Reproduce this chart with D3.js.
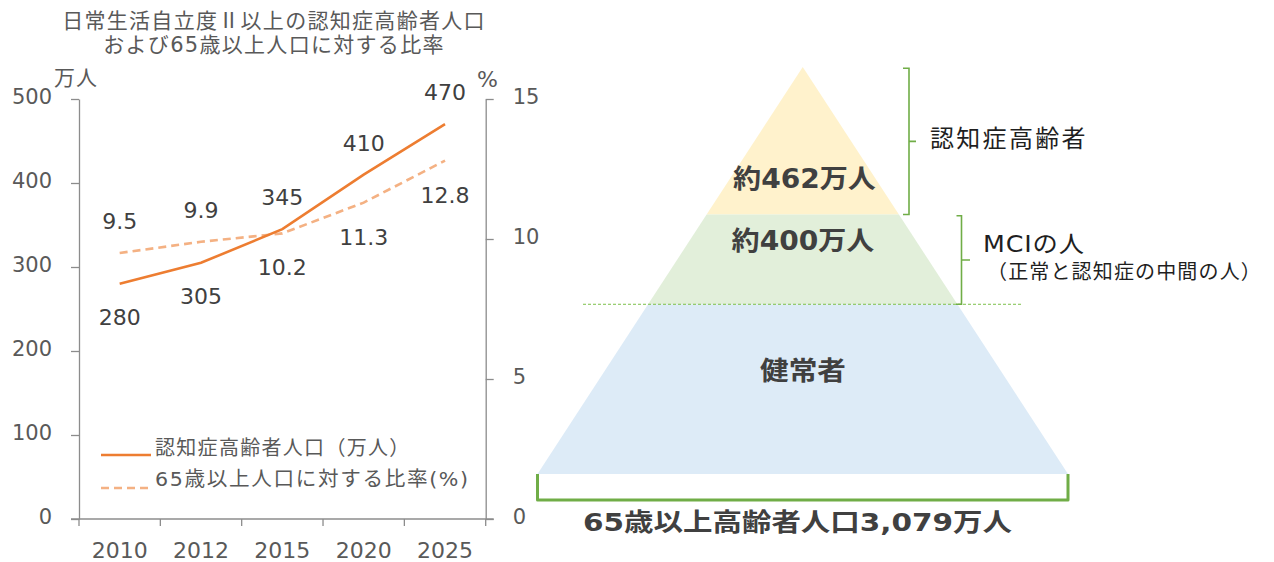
<!DOCTYPE html>
<html><head><meta charset="utf-8">
<script src="https://cdn.jsdelivr.net/npm/d3@7"></script>
<style>
html,body{margin:0;padding:0;background:#fff;}
svg{display:block;font-family:"DejaVu Sans","Noto Sans CJK JP",sans-serif;}
</style></head>
<body>
<svg id="chart" width="1274" height="562"></svg>
<script>
// ---- data ----
const titleLines = ["日常生活自立度Ⅱ以上の認知症高齢者人口", "および65歳以上人口に対する比率"];
const years = ["2010", "2012", "2015", "2020", "2025"];
const dementia = [280, 305, 345, 410, 470];
const ratio = [9.5, 9.9, 10.2, 11.3, 12.8];
const leftTicks = [0, 100, 200, 300, 400, 500];
const rightTicks = [0, 5, 10, 15];
const leftUnit = "万人";
const rightUnit = "%";
const legendLabels = ["認知症高齢者人口（万人）", "65歳以上人口に対する比率(%)"];
const pyramidLabels = ["約462万人", "約400万人", "健常者"];
const sideLabels = ["認知症高齢者", "MCIの人", "（正常と認知症の中間の人）"];
const totalLabel = "65歳以上高齢者人口3,079万人";

// ---- setup ----
const svg = d3.select("#chart");
const C_TEXT = "#595959", C_DARK = "#404040", C_AXIS = "#8c8c8c";
const C_SOLID = "#ED7D31", C_DASH = "#F4B183", C_GREEN = "#70AD47";

function txt(parent, x, y, s, o) {
  const t = parent.append("text")
    .attr("transform", `translate(${x},${y}) scale(${o.sx || 1},1)`)
    .attr("text-anchor", o.anchor || "start")
    .attr("font-size", o.size)
    .attr("font-weight", o.weight || "normal")
    .attr("fill", o.fill || C_TEXT)
    .style("letter-spacing", (o.ls || 0) + "px")
    .text(s);
  if (o.family) t.attr("font-family", o.family);
  return t;
}

// ---- left chart ----
const x = d3.scaleBand().domain(years).range([79, 485.7]);
const yL = d3.scaleLinear().domain([0, 500]).range([519, 99]);
const yR = d3.scaleLinear().domain([0, 15]).range([519, 99]);
const cx = d => x(d) + x.bandwidth() / 2;

// title
txt(svg, 274, 28, titleLines[0], {size: 21, anchor: "middle", ls: 1.3, family: "'Noto Sans CJK JP',sans-serif"});
txt(svg, 274, 52, titleLines[1], {size: 21, anchor: "middle", ls: 1.3});
txt(svg, 54, 85, leftUnit, {size: 21, ls: 1});
txt(svg, 487.5, 87, rightUnit, {size: 22, anchor: "middle"});

// left axis
const gL = svg.append("g").attr("transform", "translate(79,0)")
  .call(d3.axisLeft(yL).tickValues(leftTicks).tickSize(8).tickSizeOuter(0).tickPadding(19));
// right axis
const gR = svg.append("g").attr("transform", "translate(485.7,0)")
  .call(d3.axisRight(yR).tickValues(rightTicks).tickSize(8).tickSizeOuter(0).tickPadding(19));
[gL, gR].forEach(g => {
  g.selectAll("path.domain").attr("stroke", C_AXIS).attr("stroke-width", 1.3);
  g.selectAll(".tick line").attr("stroke", C_AXIS).attr("stroke-width", 1.3);
  g.selectAll(".tick text").attr("font-size", 21).attr("fill", C_TEXT)
    .attr("font-family", "'DejaVu Sans',sans-serif").attr("dy", "0.22em");
});

// x axis
const gX = svg.append("g").attr("transform", "translate(0,519)")
  .call(d3.axisBottom(x).tickSize(0).tickPadding(23.4));
gX.select("path.domain").remove();
gX.selectAll(".tick text").attr("font-size", 22).attr("fill", C_TEXT)
  .attr("font-family", "'DejaVu Sans',sans-serif");
svg.append("line").attr("x1", x.range()[0] - 8).attr("x2", x.range()[1] + 8)
  .attr("y1", 519).attr("y2", 519).attr("stroke", C_AXIS).attr("stroke-width", 1.3);
const bounds = years.map(d => x(d)).concat([x.range()[1]]);
svg.append("g").selectAll("line").data(bounds).join("line")
  .attr("x1", d => d).attr("x2", d => d).attr("y1", 519).attr("y2", 526)
  .attr("stroke", C_AXIS).attr("stroke-width", 1.3);

// lines
const lineL = d3.line().x((d, i) => cx(years[i])).y(d => yL(d));
const lineR = d3.line().x((d, i) => cx(years[i])).y(d => yR(d));
svg.append("path").attr("d", lineR(ratio)).attr("fill", "none")
  .attr("stroke", C_DASH).attr("stroke-width", 2.6).attr("stroke-dasharray", "8,5");
svg.append("path").attr("d", lineL(dementia)).attr("fill", "none")
  .attr("stroke", C_SOLID).attr("stroke-width", 2.6);

// data labels: the series higher on screen gets label above, the other below
years.forEach((yr, i) => {
  const a = yL(dementia[i]), b = yR(ratio[i]);
  const aAbove = a < b;
  txt(svg, cx(yr), aAbove ? a - 24 : a + 41, String(dementia[i]), {size: 22, anchor: "middle", fill: C_DARK});
  txt(svg, cx(yr), aAbove ? b + 42 : b - 24, ratio[i].toFixed(1), {size: 22, anchor: "middle", fill: C_DARK});
});

// legend
svg.append("line").attr("x1", 101).attr("x2", 151).attr("y1", 455).attr("y2", 455)
  .attr("stroke", C_SOLID).attr("stroke-width", 2.6);
svg.append("line").attr("x1", 101).attr("x2", 151).attr("y1", 488).attr("y2", 488)
  .attr("stroke", C_DASH).attr("stroke-width", 2.6).attr("stroke-dasharray", "8,5");
txt(svg, 155, 454.5, legendLabels[0], {size: 20, ls: 1.3});
txt(svg, 155, 486, legendLabels[1], {size: 20, ls: 1.6, sx: 1.03});

// ---- pyramid ----
const pcx = 802.75, halfBase = 265.25;
const py = d3.scaleLinear().domain([0, 1]).range([67, 474]);
const ph = d3.scaleLinear().domain([0, 1]).range([0, halfBase]);
const layerStops = [0, 0.3625, 0.583, 1];
const layerColors = ["#FFF2CC", "#E2EFDA", "#DDEBF7"];
const poly = d3.line();
for (let i = 0; i < 3; i++) {
  const t0 = layerStops[i], t1 = layerStops[i + 1];
  const pts = [[pcx - ph(t0), py(t0)], [pcx + ph(t0), py(t0)], [pcx + ph(t1), py(t1)], [pcx - ph(t1), py(t1)]];
  svg.append("path").attr("d", poly(pts) + "Z").attr("fill", layerColors[i]);
}
// dashed divider
svg.append("line").attr("x1", 583).attr("x2", 1023).attr("y1", py(layerStops[2])).attr("y2", py(layerStops[2]))
  .attr("stroke", "#7CC04B").attr("stroke-width", 1).attr("stroke-dasharray", "3,2");

// bottom bracket
svg.append("path")
  .attr("d", `M${pcx - halfBase},${py(1)} V500 H${pcx + halfBase} V${py(1)}`)
  .attr("fill", "none").attr("stroke", C_GREEN).attr("stroke-width", 3).attr("stroke-linejoin", "round");

// right brackets
const b1top = py(0) + 1.3, b1bot = py(layerStops[1]);
svg.append("path").attr("d", `M903,${b1top} H909 V${b1bot} H903 M909,${(b1top + b1bot) / 2} H916`)
  .attr("fill", "none").attr("stroke", C_GREEN).attr("stroke-width", 1.6);
const b2top = py(layerStops[1]) + 1.2, b2bot = py(layerStops[2]);
svg.append("path").attr("d", `M956.5,${b2top} H961.5 V${b2bot} H956 M961.5,${(b2top + b2bot) / 2} H970`)
  .attr("fill", "none").attr("stroke", C_GREEN).attr("stroke-width", 1.6);

// pyramid labels
txt(svg, 804.5, 188, pyramidLabels[0], {size: 26, weight: "bold", anchor: "middle", fill: C_DARK, sx: 1.08});
txt(svg, 803, 250, pyramidLabels[1], {size: 26, weight: "bold", anchor: "middle", fill: C_DARK, sx: 1.08});
txt(svg, 803, 380, pyramidLabels[2], {size: 26, weight: "bold", anchor: "middle", fill: C_DARK, sx: 1.1});
txt(svg, 797.5, 530.5, totalLabel, {size: 25, weight: "bold", anchor: "middle", fill: C_DARK, sx: 1.18});

// side labels
txt(svg, 930, 146.5, sideLabels[0], {size: 24, fill: "#1f1f1f", ls: 2.3});
txt(svg, 983, 252, sideLabels[1], {size: 23, fill: "#1f1f1f", ls: 0.8, sx: 1.1});
txt(svg, 987, 279.3, sideLabels[2], {size: 20, fill: "#1f1f1f", ls: 1.15});
</script>
</body></html>
